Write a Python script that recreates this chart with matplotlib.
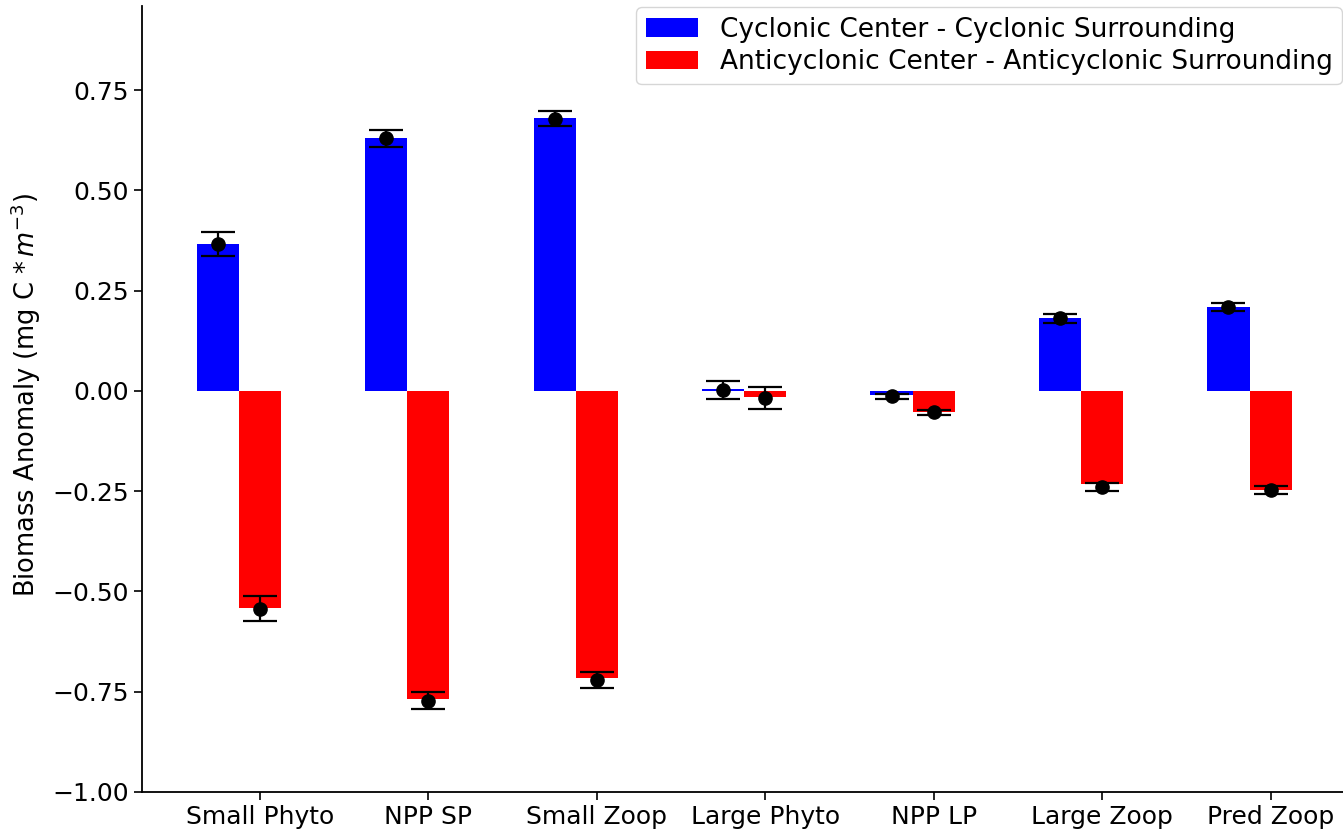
import matplotlib.pyplot as plt
import numpy as np

categories = ['Small Phyto', 'NPP SP', 'Small Zoop', 'Large Phyto', 'NPP LP', 'Large Zoop', 'Pred Zoop']

# bar heights
cyc_bar = [0.367, 0.630, 0.680, 0.005, -0.010, 0.182, 0.210]
anti_bar = [-0.540, -0.768, -0.717, -0.015, -0.052, -0.233, -0.246]

# point estimates and error half-widths
cyc_pt = [0.367, 0.630, 0.679, 0.003, -0.013, 0.181, 0.209]
cyc_err = [0.030, 0.021, 0.019, 0.022, 0.006, 0.012, 0.010]
anti_pt = [-0.543, -0.772, -0.720, -0.018, -0.053, -0.240, -0.247]
anti_err = [0.031, 0.022, 0.020, 0.028, 0.006, 0.010, 0.010]

x = np.arange(len(categories))
w = 0.25

fig = plt.figure(figsize=(13.43, 8.34), dpi=100)
ax = fig.add_axes([0.1057, 0.0504, 0.8943, 0.9424])

ax.bar(x - w, cyc_bar, w, color='blue', label='Cyclonic Center - Cyclonic Surrounding')
ax.bar(x, anti_bar, w, color='red', label='Anticyclonic Center - Anticyclonic Surrounding')

ax.errorbar(x - w, cyc_pt, yerr=cyc_err, fmt='o', color='black', markersize=9.5,
            capsize=12.5, elinewidth=1.6, capthick=1.6)
ax.errorbar(x, anti_pt, yerr=anti_err, fmt='o', color='black', markersize=9.5,
            capsize=12.5, elinewidth=1.6, capthick=1.6)

ax.set_xticks(x)
ax.set_xticklabels(categories)
ax.set_xlim(-0.7, 6.43)
ax.set_ylim(-1.0, 0.96)
ax.set_yticks([-1.0, -0.75, -0.5, -0.25, 0.0, 0.25, 0.5, 0.75])
ax.tick_params(labelsize=18, length=6, width=1.2)
ax.set_ylabel(r'Biomass Anomaly (mg C $* \, m^{-3}$)', fontsize=18.5)
ax.yaxis.set_label_coords(-0.082, 0.505)

for s in ['top', 'right']:
    ax.spines[s].set_visible(False)
for s in ['left', 'bottom']:
    ax.spines[s].set_linewidth(1.3)

ax.legend(loc='upper right', fontsize=19, borderaxespad=0.05, borderpad=0.35,
          labelspacing=0.25, handlelength=2.0, handleheight=0.7)

fig.savefig('out.png', dpi=100)
